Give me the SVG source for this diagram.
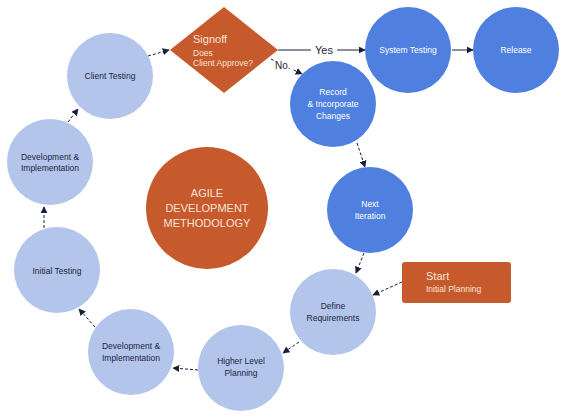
<svg xmlns="http://www.w3.org/2000/svg" width="566" height="418" viewBox="0 0 566 418">
<defs>
<marker id="ah" viewBox="0 0 10 10" refX="9" refY="5" markerWidth="7" markerHeight="7" orient="auto" markerUnits="userSpaceOnUse">
<path d="M0,0 L10,5 L0,10 z" fill="#16203a"/>
</marker>
<style>
.lb{fill:#b3c5eb}
.db{fill:#4f80e0}
.or{fill:#c65a2d}
.t{font-family:"Liberation Sans",Arial,sans-serif;font-size:8.5px;text-anchor:middle}
.dk{fill:#1c2540}
.wh{fill:#ffffff}
.big{font-family:"Liberation Sans",Arial,sans-serif;font-size:11px;fill:#f7e4d6;text-anchor:middle}
.c{fill:none;stroke:#16203a;stroke-width:1;stroke-dasharray:3,2;marker-end:url(#ah)}
</style>
</defs>
<rect width="566" height="418" fill="#ffffff"/>
<g id="connectors">
<path class="c" d="M68,122 L78,109"/>
<path class="c" d="M44,228 L44,207"/>
<path class="c" d="M95,327 L79,309"/>
<path class="c" d="M198,370 L173,368"/>
<path class="c" d="M299,342 L283,353"/>
<path class="c" d="M402,282 L373,295"/>
<path class="c" d="M364,253 L356,273"/>
<path class="c" d="M357,143 L365,167"/>
<path class="c" d="M148,56 L169,50"/>
<path class="c" style="stroke-dasharray:none" d="M278,50 L365,50"/>
<path class="c" d="M271,59 L302,74"/>
<path class="c" style="stroke-dasharray:none" d="M452,50 L473,50"/>
<rect x="311" y="43" width="26" height="14" fill="#ffffff"/>
<text x="324" y="54" font-family="Liberation Sans, Arial, sans-serif" font-size="11" fill="#1c2540" text-anchor="middle">Yes</text>
<rect x="276" y="60" width="16" height="11" fill="#ffffff"/>
<text x="275" y="69" font-family="Liberation Sans, Arial, sans-serif" font-size="10" fill="#1c2540">No.</text>
</g>
<g id="client-testing">
<circle class="lb" cx="110" cy="76" r="43"/>
<text class="t dk" x="110" y="79">Client Testing</text>
</g>
<g id="dev-impl-top">
<circle class="lb" cx="50" cy="162" r="43"/>
<text class="t dk" x="50" y="160">Development &amp;</text>
<text class="t dk" x="50" y="171">Implementation</text>
</g>
<g id="initial-testing">
<circle class="lb" cx="57" cy="270" r="43"/>
<text class="t dk" x="57" y="274">Initial Testing</text>
</g>
<g id="dev-impl-bottom">
<circle class="lb" cx="131" cy="352" r="43"/>
<text class="t dk" x="131" y="349">Development &amp;</text>
<text class="t dk" x="131" y="361">Implementation</text>
</g>
<g id="higher-level-planning">
<circle class="lb" cx="241" cy="368" r="43"/>
<text class="t dk" x="241" y="364">Higher Level</text>
<text class="t dk" x="241" y="376">Planning</text>
</g>
<g id="define-requirements">
<circle class="lb" cx="333" cy="312" r="43"/>
<text class="t dk" x="333" y="309">Define</text>
<text class="t dk" x="333" y="321">Requirements</text>
</g>
<g id="next-iteration">
<circle class="db" cx="370" cy="210" r="43"/>
<text class="t wh" x="370" y="207">Next</text>
<text class="t wh" x="370" y="219">Iteration</text>
</g>
<g id="record-changes">
<circle class="db" cx="333" cy="104" r="43"/>
<text class="t wh" x="333" y="95">Record</text>
<text class="t wh" x="333" y="107">&amp; Incorporate</text>
<text class="t wh" x="333" y="119">Changes</text>
</g>
<g id="system-testing">
<circle class="db" cx="408" cy="50" r="43"/>
<text class="t wh" x="408" y="53">System Testing</text>
</g>
<g id="release">
<circle class="db" cx="516" cy="50" r="43"/>
<text class="t wh" x="516" y="53">Release</text>
</g>
<g id="signoff">
<polygon class="or" points="170,50 224,7 278,50 224,93"/>
<text x="193" y="43" font-family="Liberation Sans, Arial, sans-serif" font-size="11" fill="#f7e4d6">Signoff</text>
<text x="193" y="56" font-family="Liberation Sans, Arial, sans-serif" font-size="8.5" fill="#f7e4d6">Does</text>
<text x="193" y="66" font-family="Liberation Sans, Arial, sans-serif" font-size="8.5" fill="#f7e4d6">Client Approve?</text>
</g>
<g id="agile">
<circle class="or" cx="207" cy="208" r="61"/>
<text class="big" x="207" y="197">AGILE</text>
<text class="big" x="207" y="212">DEVELOPMENT</text>
<text class="big" x="207" y="227">METHODOLOGY</text>
</g>
<g id="start">
<rect class="or" x="402" y="262" width="109" height="41" rx="3"/>
<text x="426" y="280" font-family="Liberation Sans, Arial, sans-serif" font-size="11" fill="#f7e4d6">Start</text>
<text x="426" y="292" font-family="Liberation Sans, Arial, sans-serif" font-size="8.5" fill="#f7e4d6">Initial Planning</text>
</g>
</svg>
